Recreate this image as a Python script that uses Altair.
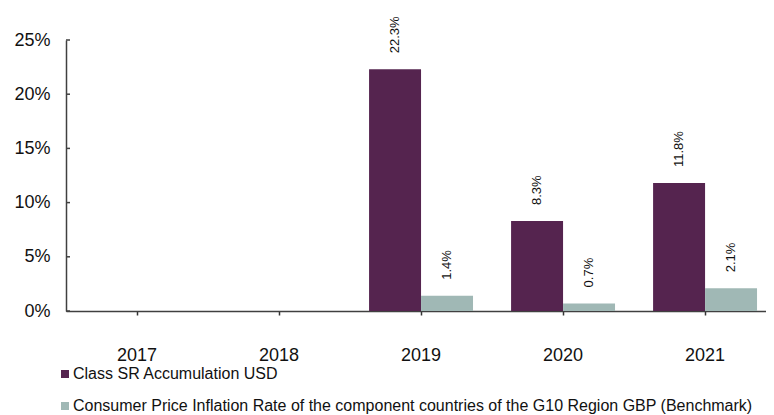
import altair as alt
import pandas as pd

years = ["2017", "2018", "2019", "2020", "2021"]
series = [
    "Class SR Accumulation USD",
    "Consumer Price Inflation Rate of the component countries of the G10 Region GBP (Benchmark)",
]
fund = [None, None, 22.3, 8.3, 11.8]
bench = [None, None, 1.4, 0.7, 2.1]
colors = ["#55244f", "#a0b8b5"]
y_ticks = [0, 0.05, 0.10, 0.15, 0.20, 0.25]

rows = []
for yr, f, b in zip(years, fund, bench):
    if f is not None:
        rows.append({"year": yr, "series": series[0], "value": f / 100})
    if b is not None:
        rows.append({"year": yr, "series": series[1], "value": b / 100})
df = pd.DataFrame(rows)
ticks_df = pd.DataFrame({"v": y_ticks})

x = alt.X(
    "year:N",
    scale=alt.Scale(domain=years, paddingInner=0.268, paddingOuter=0.0986, align=0.68),
    axis=alt.Axis(
        title=None, labelAngle=0, labelFontSize=18, labelPadding=31,
        tickSize=4, tickColor="#333333", tickWidth=1.5,
        domainColor="#404040", domainWidth=1.5, labelColor="#111111",
        labelFont="Liberation Sans",
    ),
)
y = alt.Y(
    "value:Q",
    scale=alt.Scale(domain=[0, 0.25], nice=False),
    axis=alt.Axis(
        title=None, values=y_ticks, format=".0%", labelFontSize=18,
        labelPadding=16, tickSize=0, grid=False,
        domainColor="#404040", domainWidth=1.5, labelColor="#111111",
        labelFont="Liberation Sans",
    ),
)
xoff = alt.XOffset("series:N", sort=series, scale=alt.Scale(domain=series, paddingInner=0, paddingOuter=0))
color = alt.Color(
    "series:N",
    scale=alt.Scale(domain=series, range=colors),
    legend=alt.Legend(
        title=None, orient="none", legendX=-9, legendY=326, direction="vertical",
        symbolType="square", symbolSize=64, symbolStrokeWidth=0,
        labelFontSize=16, labelFont="Liberation Sans", labelColor="#111111",
        labelLimit=900, labelOffset=0, rowPadding=16,
    ),
)

bars = alt.Chart(df).mark_bar().encode(x=x, y=y, xOffset=xoff, color=color)
labels = alt.Chart(df).mark_text(
    angle=270, align="left", baseline="middle", dx=16, fontSize=13,
    font="Liberation Sans", color="#111111",
).encode(x=x, y=y, xOffset=xoff, text=alt.Text("value:Q", format=".1%"))
inticks = alt.Chart(ticks_df).mark_rule(color="#404040", strokeWidth=1.5).encode(
    x=alt.value(0), x2=alt.value(4), y=alt.Y("v:Q")
)

chart = alt.layer(bars, labels, inticks).properties(
    width=700, height=271,
    padding={"top": 8, "left": 5, "right": 0, "bottom": 0},
).configure_view(stroke=None)

chart.save("out.html", embed_options={"renderer": "svg", "actions": False})
